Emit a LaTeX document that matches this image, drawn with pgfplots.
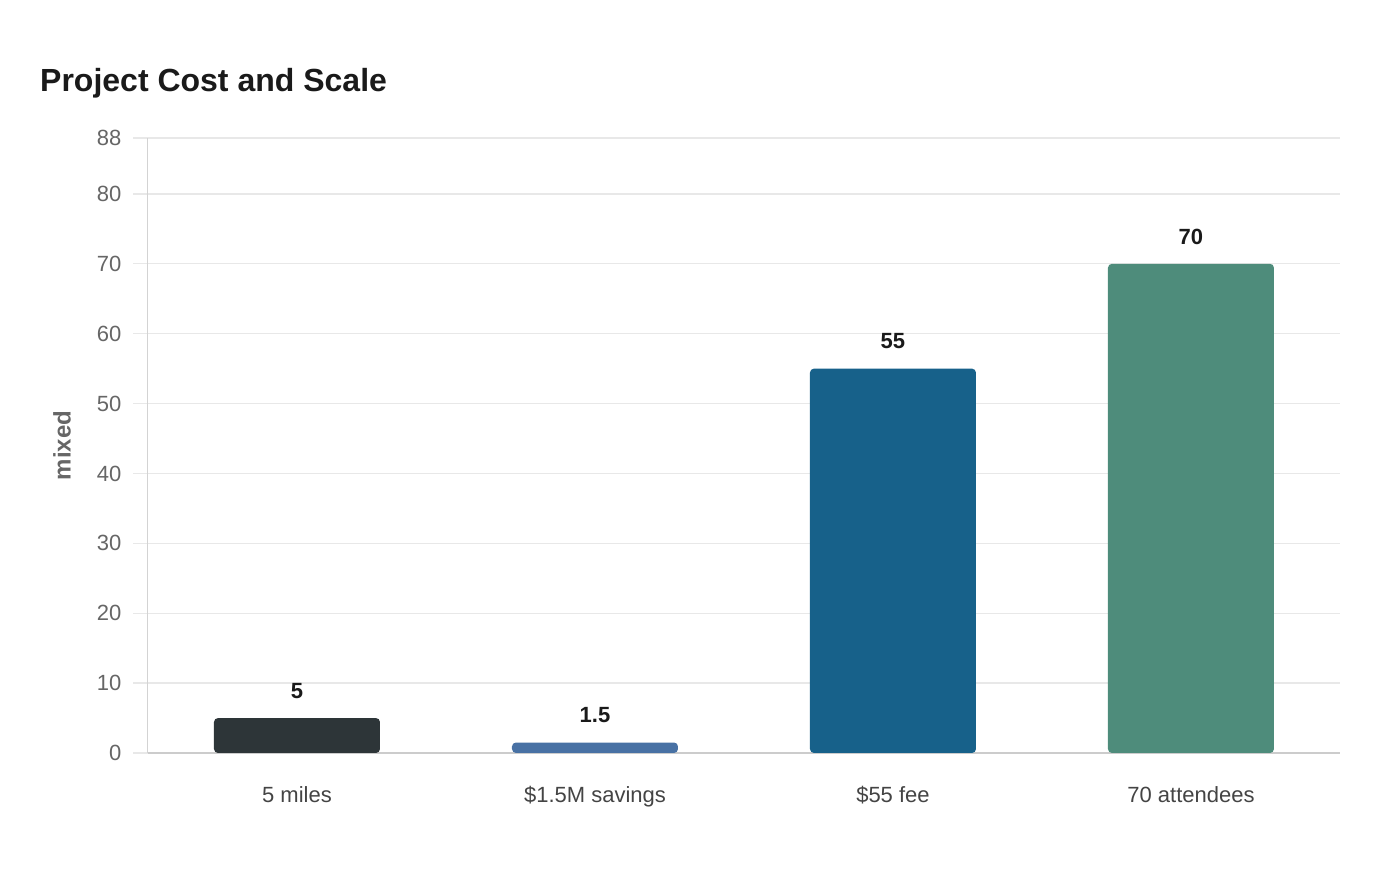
\documentclass[border=0pt]{standalone}
\usepackage{fontspec}
\setmainfont{Liberation Sans}
\usepackage{pgfplots}
\pgfplotsset{compat=1.18}

\definecolor{barA}{HTML}{2D3538}
\definecolor{barB}{HTML}{4871A4}
\definecolor{barC}{HTML}{17618A}
\definecolor{barD}{HTML}{4E8C7B}
\definecolor{gridc}{HTML}{E8E8E8}
\definecolor{axisc}{HTML}{CCCCCC}
\definecolor{tickc}{HTML}{666666}
\definecolor{catc}{HTML}{444444}
\definecolor{titlec}{HTML}{1A1A1A}

\begin{document}
\begin{tikzpicture}[font=\fontsize{22}{26}\selectfont]
\begin{axis}[
    scale only axis,
    width=1192pt, height=615pt,
    xmin=-0.5, xmax=3.5,
    ymin=0, ymax=88,
    ybar, bar width=166pt, bar shift=0pt,
    xtick={0,1,2,3},
    xticklabels={5 miles, \$1.5M savings, \$55 fee, 70 attendees},
    ytick={0,10,20,30,40,50,60,70,80,88},
    /pgf/number format/assume math mode=true,
    ymajorgrids, grid style={draw=gridc, line width=1.3pt},
    axis x line*=bottom, axis y line*=left,
    x axis line style={draw=axisc, line width=1.3pt, -},
    y axis line style={draw=gridc!80!gray, line width=1pt, -},
    xtick style={draw=none},
    ytick style={draw=gridc, line width=1.3pt},
    tick align=outside, major tick length=15pt,
    yticklabel style={text=tickc, xshift=-8pt},
    xticklabel style={text=catc, yshift=-15pt},
    ylabel={\bfseries mixed},
    ylabel style={at={(axis description cs:-0.0721,0.5)}, anchor=center, text=tickc, font=\fontsize{24}{28}\selectfont},
    nodes near coords,
    every node near coord/.append style={font=\fontsize{22}{26}\selectfont\bfseries, text=titlec, yshift=16pt},
    every axis plot/.append style={draw=none, rounded corners=4pt},
]
\addplot[fill=barA] coordinates {(0,5)};
\addplot[fill=barB] coordinates {(1,1.5)};
\addplot[fill=barC] coordinates {(2,55)};
\addplot[fill=barD] coordinates {(3,70)};
\coordinate (O) at (rel axis cs:0,0);
\end{axis}
\coordinate (BL) at ([shift={(-148pt,-127pt)}]O);
\node[anchor=west, font=\fontsize{32}{38}\selectfont\bfseries, text=titlec, inner sep=0pt]
  at ([shift={(40pt,797pt)}]BL) {Project Cost and Scale};
\path (BL) rectangle ++(1400pt,880pt);
\end{tikzpicture}
\end{document}
